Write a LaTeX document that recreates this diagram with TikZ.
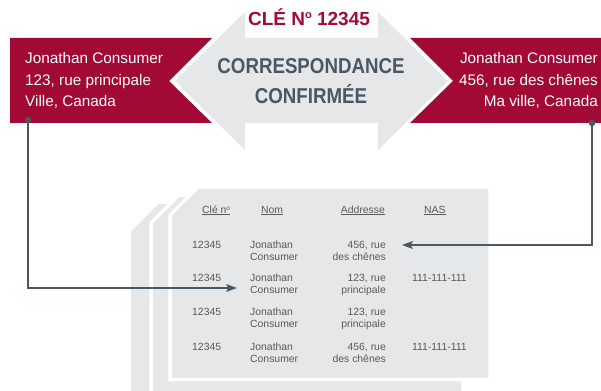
\documentclass[tikz,border=0pt]{standalone}
\usepackage{fontspec}
\setmainfont{Liberation Sans}
\newfontfamily\condfont[FakeStretch=0.87]{Liberation Sans}
\usetikzlibrary{arrows.meta}
\definecolor{crim}{HTML}{A20A35}
\definecolor{lgray}{HTML}{E6E7E8}
\definecolor{slate}{HTML}{4A5864}
\definecolor{ttext}{HTML}{58595B}
\begin{document}
\begin{tikzpicture}[x=1pt,y=-1pt,
  addr/.style={text=white, inner sep=0pt, font=\fontsize{15.3}{21.5}\selectfont},
  cell/.style={text=ttext, inner sep=0pt, font=\fontsize{10.4}{12.5}\selectfont},
  conn/.style={draw=slate, line width=1.2pt, -{Stealth[length=11pt,width=8pt,inset=2.5pt]}},
  sheet/.style={fill=lgray, draw=white, line width=3.5pt, line join=miter},
  dotnode/.style={circle, fill=slate, inner sep=0pt, minimum size=6.5pt},
  redbox/.style={fill=crim},
  bigarrow/.style={fill=lgray}]
\useasboundingbox (0,0) rectangle (601,390);
\clip (0,0) rectangle (601,390);

% double arrow
\fill[bigarrow] (175,81) -- (245,12) -- (245,38) -- (378,38) -- (378,12) -- (448,81)
  -- (378,150) -- (378,123) -- (245,123) -- (245,150) -- cycle;
% red boxes
\fill[redbox] (10,38) -- (212,38) -- (169,81) -- (212,123) -- (10,123) -- cycle;
\fill[redbox] (410,38) -- (601,38) -- (601,123) -- (410,123) -- (453,81) -- cycle;

% titles
\node[anchor=base, text=crim, inner sep=0pt, font=\fontsize{19}{19}\selectfont\bfseries] (key) at (309,26)
  {CLÉ N\raisebox{7pt}{\fontsize{11}{11}\selectfont o} 12345};
\node[anchor=base, text=slate, inner sep=0pt, font=\condfont\bfseries\fontsize{21.5}{30}\selectfont] (corr) at (311,73.5)
  {\begin{tabular}[t]{@{}c@{}}CORRESPONDANCE\\CONFIRMÉE\end{tabular}};

% addresses
\node[addr, anchor=base west] (laddr) at (25,64)
  {\begin{tabular}[t]{@{}l@{}}Jonathan Consumer\\123, rue principale\\Ville, Canada\end{tabular}};
\node[addr, anchor=base east] (raddr) at (598,64)
  {\begin{tabular}[t]{@{}r@{}}Jonathan Consumer\\456, rue des chênes\\Ma ville, Canada\end{tabular}};

% sheets
\filldraw[sheet] (158,202) -- (440,202) -- (440,400) -- (129,400) -- (129,231) -- cycle;
\filldraw[sheet] (179,195) -- (463,195) -- (463,400) -- (151,400) -- (151,223) -- cycle;
\filldraw[sheet] (198,187) -- (490,187) -- (490,379.5) -- (170,379.5) -- (170,215) -- cycle;

% headers
\node[cell, anchor=base west] (hcle) at (202,213) {\underline{Clé n\raisebox{3pt}{\fontsize{6.5}{6.5}\selectfont o}}};
\node[cell, anchor=base west] (hnom) at (261,213) {\underline{Nom}};
\node[cell, anchor=base east] (hadr) at (385,213) {\underline{Addresse}};
\node[cell, anchor=base west] (hnas) at (424,213) {\underline{NAS}};

% rows
\node[cell, anchor=base west] (k1) at (192,248) {12345};
\node[cell, anchor=base west] (n1) at (250,248) {\begin{tabular}[t]{@{}l@{}}Jonathan\\Consumer\end{tabular}};
\node[cell, anchor=base east] (a1) at (386,248) {\begin{tabular}[t]{@{}r@{}}456, rue\\des chênes\end{tabular}};

\node[cell, anchor=base west] (k2) at (192,281) {12345};
\node[cell, anchor=base west] (n2) at (250,281) {\begin{tabular}[t]{@{}l@{}}Jonathan\\Consumer\end{tabular}};
\node[cell, anchor=base east] (a2) at (386,281) {\begin{tabular}[t]{@{}r@{}}123, rue\\principale\end{tabular}};
\node[cell, anchor=base west] (s2) at (412,281) {111-111-111};

\node[cell, anchor=base west] (k3) at (192,315) {12345};
\node[cell, anchor=base west] (n3) at (250,315) {\begin{tabular}[t]{@{}l@{}}Jonathan\\Consumer\end{tabular}};
\node[cell, anchor=base east] (a3) at (386,315) {\begin{tabular}[t]{@{}r@{}}123, rue\\principale\end{tabular}};

\node[cell, anchor=base west] (k4) at (192,350) {12345};
\node[cell, anchor=base west] (n4) at (250,350) {\begin{tabular}[t]{@{}l@{}}Jonathan\\Consumer\end{tabular}};
\node[cell, anchor=base east] (a4) at (386,350) {\begin{tabular}[t]{@{}r@{}}456, rue\\des chênes\end{tabular}};
\node[cell, anchor=base west] (s4) at (412,350) {111-111-111};

% connectors
\node[dotnode] (ldot) at (28,120) {};
\node[dotnode] (rdot) at (592,123) {};
\coordinate (ltip) at (237,288);
\coordinate (rtip) at (402,245);
\draw[conn] (ldot.center) |- (ltip);
\draw[conn] (rdot.center) |- (rtip);
\end{tikzpicture}
\end{document}
